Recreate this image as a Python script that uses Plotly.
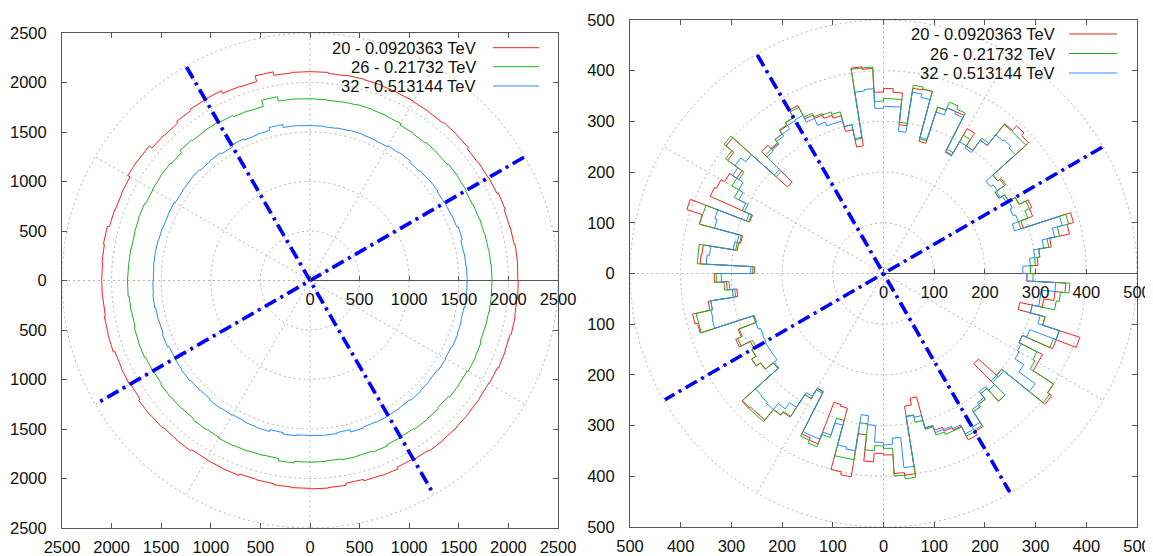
import numpy as np
import plotly.graph_objects as go

# ---------------- data ----------------
series_names = ["20 - 0.0920363 TeV", "26 - 0.21732 TeV", "32 - 0.513144 TeV"]
series_colors = ["#ff2020", "#1fb41f", "#2a8cff"]

# left panel: radius per 5-degree bin, starting at 0 deg, counter-clockwise
left_bin_deg = 5
left_red = [2095, 2100, 2090, 2085, 2095, 2080, 2075, 2070, 2085, 2090, 2080, 2085, 2090, 2095, 2100, 2105, 2100, 2110,
            2110, 2105, 2140, 2080, 2085, 2115, 2110, 2095, 2075, 2080, 2115, 2120, 2095, 2090, 2095, 2115, 2105, 2100,
            2100, 2095, 2105, 2110, 2095, 2100, 2090, 2110, 2105, 2095, 2100, 2085, 2090, 2095, 2080, 2085, 2095, 2100,
            2105, 2100, 2080, 2095, 2100, 2080, 2090, 2100, 2095, 2090, 2085, 2080, 2085, 2095, 2090, 2100, 2095, 2100]
left_green = [1835, 1830, 1825, 1820, 1815, 1810, 1820, 1825, 1815, 1820, 1810, 1815, 1830, 1835, 1840, 1835, 1830, 1835,
              1835, 1840, 1885, 1820, 1825, 1840, 1850, 1845, 1855, 1830, 1840, 1835, 1830, 1840, 1835, 1830, 1835, 1835,
              1840, 1830, 1825, 1835, 1840, 1830, 1825, 1835, 1830, 1825, 1835, 1830, 1840, 1835, 1830, 1825, 1850, 1835,
              1835, 1830, 1840, 1835, 1845, 1830, 1825, 1835, 1830, 1820, 1835, 1830, 1840, 1835, 1825, 1830, 1835, 1835]
left_blue = [1585, 1580, 1575, 1590, 1575, 1570, 1565, 1575, 1570, 1560, 1575, 1570, 1560, 1565, 1570, 1565, 1560, 1565,
             1565, 1570, 1600, 1570, 1565, 1580, 1560, 1575, 1570, 1580, 1575, 1570, 1580, 1575, 1580, 1585, 1585, 1580,
             1585, 1590, 1580, 1575, 1585, 1570, 1575, 1580, 1570, 1565, 1575, 1570, 1565, 1575, 1580, 1560, 1575, 1565,
             1565, 1570, 1560, 1585, 1575, 1580, 1575, 1570, 1580, 1575, 1570, 1580, 1575, 1585, 1580, 1575, 1585, 1585]

# right panel: radius per 3-degree bin
right_bin_deg = 3
right_red = [290, 305, 310, 335, 375, 388, 290, 315, 320, 300,
             285, 272, 298, 290, 385, 392, 380, 325, 300, 330,
             270, 350, 350, 345, 270, 372, 370, 295, 358, 365,
             358, 405, 410, 255, 290, 322, 328, 335, 342, 372,
             355, 348, 340, 330, 340, 255, 400, 380, 345, 362,
             370, 374, 283, 408, 376, 288, 292, 360, 362, 255,
             334, 310, 291, 350, 385, 380, 270, 307, 319, 295,
             300, 310, 300, 280, 376, 372, 372, 345, 338, 285,
             262, 355, 360, 272, 275, 400, 406, 320, 372, 355,
             358, 395, 400, 265, 252, 316, 325, 333, 338, 368,
             360, 325, 319, 305, 339, 252, 300, 410, 400, 352,
             352, 300, 365, 407, 330, 275, 320, 340, 360, 283]
right_green = [290, 300, 310, 330, 355, 378, 285, 305, 315, 300,
               285, 275, 295, 290, 378, 378, 378, 330, 300, 315,
               275, 355, 362, 345, 275, 372, 376, 300, 345, 345,
               340, 408, 408, 270, 300, 330, 335, 338, 346, 368,
               355, 350, 340, 332, 330, 285, 405, 385, 340, 345,
               330, 305, 285, 375, 376, 290, 295, 368, 368, 258,
               330, 315, 300, 345, 378, 378, 270, 305, 315, 290,
               300, 310, 300, 280, 374, 376, 376, 345, 336, 285,
               265, 360, 366, 340, 300, 372, 372, 298, 350, 340,
               345, 400, 407, 285, 300, 318, 335, 340, 340, 360,
               357, 325, 319, 305, 339, 304, 300, 405, 400, 345,
               340, 300, 359, 365, 330, 300, 345, 351, 368, 295]
right_blue = [275, 290, 300, 320, 345, 365, 272, 285, 280, 285,
              280, 272, 278, 272, 350, 355, 352, 325, 295, 300,
              268, 345, 350, 335, 278, 355, 362, 282, 330, 330,
              326, 365, 362, 272, 300, 312, 312, 320, 335, 350,
              348, 340, 335, 328, 325, 290, 350, 362, 355, 330,
              320, 300, 290, 350, 345, 295, 300, 345, 350, 262,
              320, 305, 295, 345, 348, 350, 268, 270, 266, 268,
              270, 270, 270, 278, 340, 342, 345, 330, 315, 280,
              261, 350, 350, 335, 310, 350, 354, 282, 300, 333,
              338, 325, 385, 286, 290, 315, 330, 330, 335, 355,
              350, 320, 315, 300, 310, 300, 305, 370, 330, 309,
              305, 300, 309, 364, 320, 300, 313, 313, 340, 283]

# axes / grid
left_ticks = [-2500, -2000, -1500, -1000, -500, 0, 500, 1000, 1500, 2000, 2500]
left_tick_text = ["2500", "2000", "1500", "1000", "500", "0", "500", "1000", "1500", "2000", "2500"]
left_r_ticks = [0, 500, 1000, 1500, 2000, 2500]
left_grid_r = [500, 1000, 1500, 2000, 2500]
left_rmax = 2500
right_ticks = [-500, -400, -300, -200, -100, 0, 100, 200, 300, 400, 500]
right_tick_text = ["500", "400", "300", "200", "100", "0", "100", "200", "300", "400", "500"]
right_r_ticks = [0, 100, 200, 300, 400, 500]
right_grid_r = [100, 200, 300, 400, 500]
right_rmax = 500
spoke_angles = [0, 30, 60, 90, 120, 150, 180, 210, 240, 270, 300, 330]
# dash-dot reference lines (angle pairs, degrees) and their length
ref_line_angles = [(120, 300), (30, 210)]
left_ref_r = 2490
right_ref_r = 498

# ---------------- helpers ----------------
PAGE_OFF = 8            # default body margin of the html page
W, H = 1153 - PAGE_OFF, 556 - PAGE_OFF
FONT = "Liberation Sans"
FS = 16.5
TXT = "#111111"
BORDER = "#555555"
GRID = "#b4b4b4"


def polar_steps(r, width_deg):
    r = np.asarray(r, dtype=float)
    n = len(r)
    edges = np.deg2rad(np.arange(n + 1) * width_deg)
    th = np.empty(2 * n + 1)
    rr = np.empty(2 * n + 1)
    th[0:2 * n:2] = edges[:-1]
    th[1:2 * n:2] = edges[1:]
    rr[0:2 * n:2] = r
    rr[1:2 * n:2] = r
    th[-1] = edges[0]
    rr[-1] = r[0]
    return rr * np.cos(th), rr * np.sin(th)


def px_x(p):
    return (p - PAGE_OFF) / W


def px_y(p):
    return 1 - (p - PAGE_OFF) / H


fig = go.Figure()

panels = [
    dict(xa="x", ya="y", data=[left_red, left_green, left_blue], bw=left_bin_deg,
         grid=left_grid_r, rmax=left_rmax, refr=left_ref_r),
    dict(xa="x2", ya="y2", data=[right_red, right_green, right_blue], bw=right_bin_deg,
         grid=right_grid_r, rmax=right_rmax, refr=right_ref_r),
]

shapes = []
for p in panels:
    for r in p["grid"]:
        shapes.append(dict(type="circle", xref=p["xa"], yref=p["ya"], x0=-r, y0=-r, x1=r, y1=r,
                           line=dict(color=GRID, width=1, dash="2px,3px"), layer="below"))
    for a in spoke_angles:
        t = np.deg2rad(a)
        shapes.append(dict(type="line", xref=p["xa"], yref=p["ya"], x0=0, y0=0,
                           x1=p["rmax"] * np.cos(t), y1=p["rmax"] * np.sin(t),
                           line=dict(color=GRID, width=1, dash="2px,3px"), layer="below"))
    shapes.append(dict(type="line", xref=p["xa"], yref=p["ya"], x0=0, y0=0, x1=p["rmax"], y1=0,
                       line=dict(color=BORDER, width=1), layer="below"))
    for vals, col, name in zip(p["data"], series_colors, series_names):
        x, y = polar_steps(vals, p["bw"])
        fig.add_trace(go.Scatter(x=x, y=y, mode="lines", name=name,
                                 line=dict(color=col, width=1),
                                 xaxis=p["xa"], yaxis=p["ya"], showlegend=False, hoverinfo="skip"))
    for a1, a2 in ref_line_angles:
        t = np.deg2rad([a1, a2])
        fig.add_trace(go.Scatter(x=p["refr"] * np.cos(t), y=p["refr"] * np.sin(t), mode="lines",
                                 line=dict(color="#0000ff", width=3.7, dash="13px,5px,3px,5px"),
                                 xaxis=p["xa"], yaxis=p["ya"], showlegend=False, hoverinfo="skip"))

fig.add_trace(go.Scatter(x=[None], y=[None], xaxis="x3", yaxis="y", showlegend=False, hoverinfo="skip"))
fig.add_trace(go.Scatter(x=[None], y=[None], xaxis="x4", yaxis="y2", showlegend=False, hoverinfo="skip"))

annotations = []
legend_specs = [
    dict(text_right=478, x0=493, x1=539, ys=[47.7, 66.7, 86.0]),
    dict(text_right=1057, x0=1069, x1=1117, ys=[34.0, 53.5, 73.0]),
]
for spec in legend_specs:
    for name, col, yy in zip(series_names, series_colors, spec["ys"]):
        annotations.append(dict(text=name, xref="paper", yref="paper", x=px_x(spec["text_right"]), y=px_y(yy),
                                xanchor="right", yanchor="middle", showarrow=False,
                                font=dict(family=FONT, size=FS, color=TXT)))
        shapes.append(dict(type="line", xref="paper", yref="paper", x0=px_x(spec["x0"]), x1=px_x(spec["x1"]),
                           y0=px_y(yy), y1=px_y(yy), line=dict(color=col, width=1)))

L_dom_x = [px_x(62), px_x(558)]
L_dom_y = [px_y(528), px_y(33)]
R_dom_x = [px_x(630), px_x(1137)]
R_dom_y = [px_y(527), px_y(20)]

axis_common = dict(ticks="inside", ticklen=5, tickcolor=BORDER, showline=True, linecolor=BORDER, linewidth=1,
                   mirror="ticks", showgrid=False, zeroline=False, automargin=False,
                   tickfont=dict(family=FONT, size=FS, color=TXT))
raxis_common = dict(anchor="free", ticks="inside", ticklen=5, tickcolor=BORDER, showline=False, showgrid=False,
                    zeroline=False, automargin=False, ticklabelstandoff=7,
                    tickfont=dict(family=FONT, size=FS, color=TXT))

fig.update_layout(
    width=W, height=H, margin=dict(l=0, r=0, t=0, b=0, pad=0, autoexpand=False),
    paper_bgcolor="white", plot_bgcolor="white", showlegend=False,
    xaxis=dict(domain=L_dom_x, range=[-left_rmax, left_rmax], tickvals=left_ticks, ticktext=left_tick_text,
               anchor="y", ticklabelstandoff=4, **axis_common),
    yaxis=dict(domain=L_dom_y, range=[-left_rmax, left_rmax], tickvals=left_ticks, ticktext=left_tick_text,
               anchor="x", ticklabelstandoff=11, **axis_common),
    xaxis2=dict(domain=R_dom_x, range=[-right_rmax, right_rmax], tickvals=right_ticks, ticktext=right_tick_text,
                anchor="y2", ticklabelstandoff=4, **axis_common),
    yaxis2=dict(domain=R_dom_y, range=[-right_rmax, right_rmax], tickvals=right_ticks, ticktext=right_tick_text,
                anchor="x2", ticklabelstandoff=11, **axis_common),
    xaxis3=dict(overlaying="x", position=(L_dom_y[0] + L_dom_y[1]) / 2,
                range=[-left_rmax, left_rmax], tickvals=left_r_ticks, **raxis_common),
    xaxis4=dict(overlaying="x2", position=(R_dom_y[0] + R_dom_y[1]) / 2,
                range=[-right_rmax, right_rmax], tickvals=right_r_ticks, **raxis_common),
    shapes=shapes,
    annotations=annotations,
)

fig.write_html("out.html")
